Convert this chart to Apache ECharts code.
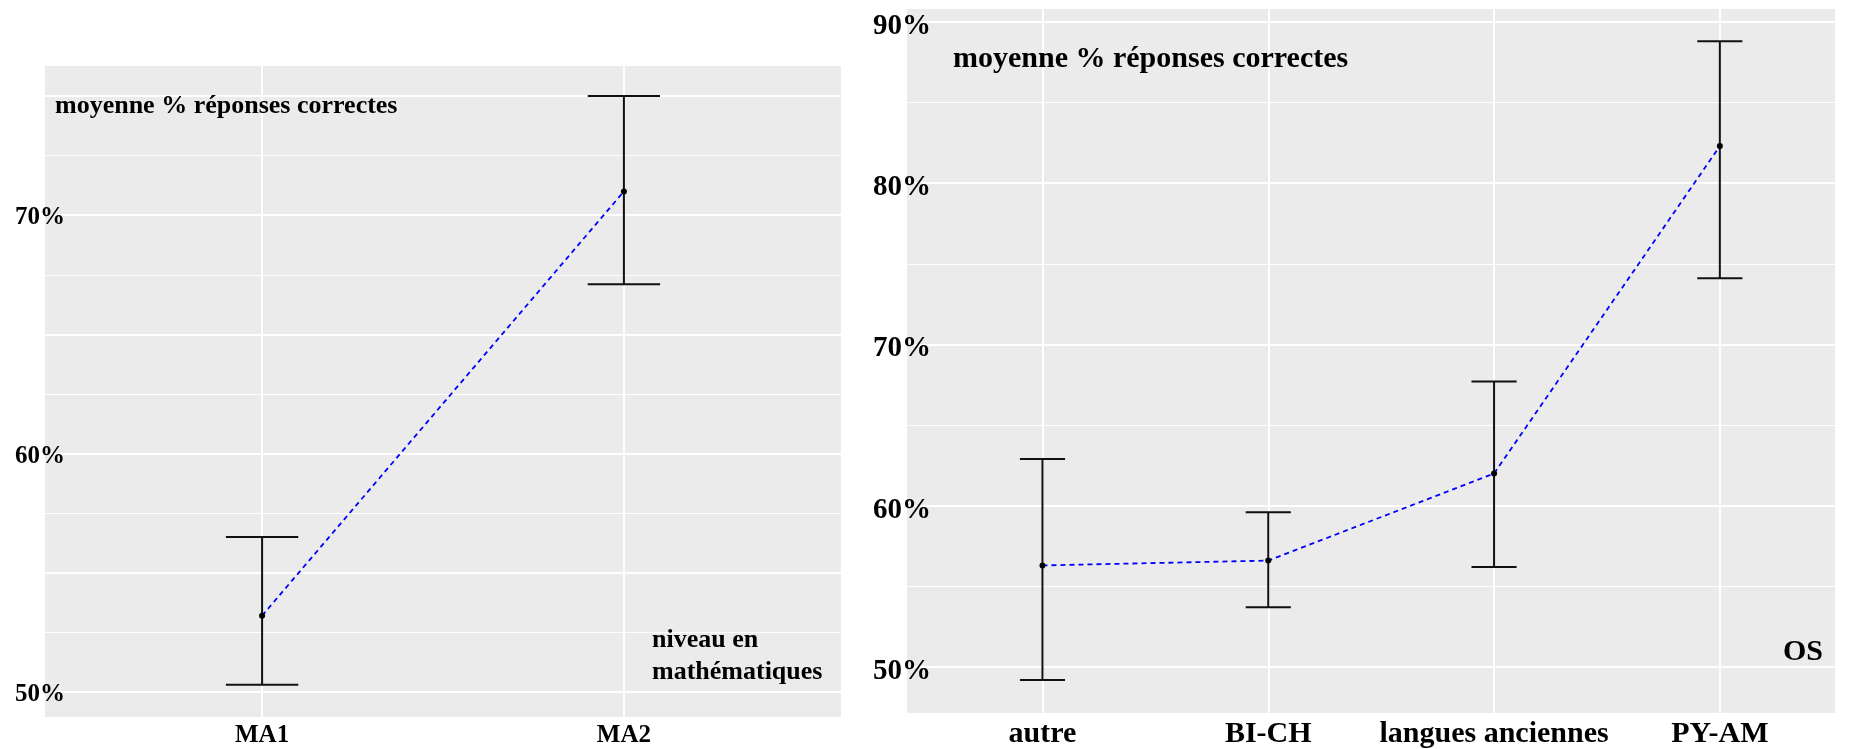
<!DOCTYPE html>
<html>
<head>
<meta charset="utf-8">
<script src="https://cdn.jsdelivr.net/npm/echarts@6/dist/echarts.min.js"></script>
<style>
html,body{margin:0;padding:0;background:#fff;}
#chart{width:1858px;height:749px;}
</style>
</head>
<body>
<div id="chart"></div>
<script>
// ---- data ----
const leftCategories = ['MA1', 'MA2'];
const leftMean = [53.2, 71.0];
const leftLow = [50.3, 67.1];
const leftHigh = [56.5, 75.0];
const leftTickValues = [50, 60, 70];
const leftTickLabels = ['50%', '60%', '70%'];

const rightCategories = ['autre', 'BI-CH', 'langues anciennes', 'PY-AM'];
const rightMean = [56.3, 56.6, 62.0, 82.3];
const rightLow = [49.2, 53.7, 56.2, 74.1];
const rightHigh = [62.9, 59.6, 67.7, 88.8];
const rightTickValues = [50, 60, 70, 80, 90];
const rightTickLabels = ['50%', '60%', '70%', '80%', '90%'];

const titleText = 'moyenne % réponses correctes';
const leftAxisTitle = ['niveau en', 'mathématiques'];
const rightAxisTitle = 'OS';

// ---- helpers ----
const FONT = '"Liberation Serif", "DejaVu Serif", serif';
function tickFormatter(values, labels) {
  return function (v) {
    for (let i = 0; i < values.length; i++) {
      if (Math.abs(v - values[i]) < 1e-6) return '{t|' + labels[i] + '}';
    }
    return '';
  };
}
function catFormatter(cats) {
  return function (v) {
    const r = Math.round(v);
    if (Math.abs(v - r) < 1e-6 && r >= 0 && r < cats.length) return cats[r];
    return '';
  };
}
function errData(low, high) {
  return low.map((l, i) => [i, l, high[i]]);
}
function meanData(mean) {
  return mean.map((m, i) => [i, m]);
}
function errorBarRender(params, api) {
  const x = api.value(0);
  const lo = api.coord([x, api.value(1)]);
  const hi = api.coord([x, api.value(2)]);
  const half = api.size([0.2, 0])[0] / 2;
  const style = { stroke: '#111', lineWidth: 2, fill: null };
  return {
    type: 'group',
    children: [
      { type: 'line', shape: { x1: lo[0], y1: lo[1], x2: hi[0], y2: hi[1] }, style },
      { type: 'line', shape: { x1: hi[0] - half, y1: hi[1], x2: hi[0] + half, y2: hi[1] }, style },
      { type: 'line', shape: { x1: lo[0] - half, y1: lo[1], x2: lo[0] + half, y2: lo[1] }, style }
    ]
  };
}
function xAxisDef(gridIndex, cats, minV, maxV, fontSize) {
  return {
    type: 'value', gridIndex, min: minV, max: maxV,
    minInterval: 1, maxInterval: 1,
    axisLine: { show: false }, axisTick: { show: false },
    splitLine: { show: true, showMinLine: false, showMaxLine: false, lineStyle: { color: '#fff', width: 2 } },
    axisLabel: { formatter: catFormatter(cats), color: '#000', fontFamily: FONT, fontWeight: 'bold', fontSize, margin: 6,
                 showMinLabel: false, showMaxLabel: false }
  };
}
function yAxisDef(gridIndex, minV, maxV, major, values, labels, fontSize, margin, padTop) {
  return {
    type: 'value', gridIndex, min: minV, max: maxV,
    minInterval: major, maxInterval: major,
    axisLine: { show: false }, axisTick: { show: false },
    minorTick: { show: false, splitNumber: 2 },
    minorSplitLine: { show: true, lineStyle: { color: '#fff', width: 1 } },
    splitLine: { show: true, showMinLine: false, showMaxLine: false, lineStyle: { color: '#fff', width: 2 } },
    axisLabel: { formatter: tickFormatter(values, labels), color: '#000', fontFamily: FONT, fontWeight: 'bold',
                 fontSize, margin, showMinLabel: false, showMaxLabel: false,
                 rich: { t: { color: '#000', fontFamily: FONT, fontWeight: 'bold', fontSize, padding: [padTop, 0, 0, 0] } } }
  };
}

const chart = echarts.init(document.getElementById('chart'), null, { renderer: 'canvas' });
const option = {
  animation: false,
  backgroundColor: '#fff',
  grid: [
    { left: 45, right: 1017, top: 66, bottom: 32, show: true, backgroundColor: '#EBEBEB', borderWidth: 0 },
    { left: 907, right: 23, top: 9, bottom: 36, show: true, backgroundColor: '#EBEBEB', borderWidth: 0 }
  ],
  xAxis: [
    xAxisDef(0, leftCategories, -0.6, 1.6, 25),
    xAxisDef(1, rightCategories, -0.6, 3.51, 30)
  ],
  yAxis: [
    yAxisDef(0, 48.95, 76.26, 5, leftTickValues, leftTickLabels, 25, -20, 5),
    yAxisDef(1, 47.15, 90.8, 10, rightTickValues, rightTickLabels, 29, -24, 9)
  ],
  series: [
    { type: 'custom', xAxisIndex: 0, yAxisIndex: 0, renderItem: errorBarRender, data: errData(leftLow, leftHigh), z: 3 },
    { type: 'line', xAxisIndex: 0, yAxisIndex: 0, data: meanData(leftMean), symbol: 'circle', symbolSize: 6,
      itemStyle: { color: '#000' }, lineStyle: { color: '#0000ff', width: 1.8, type: [5, 4] }, z: 4 },
    { type: 'custom', xAxisIndex: 1, yAxisIndex: 1, renderItem: errorBarRender, data: errData(rightLow, rightHigh), z: 3 },
    { type: 'line', xAxisIndex: 1, yAxisIndex: 1, data: meanData(rightMean), symbol: 'circle', symbolSize: 6,
      itemStyle: { color: '#000' }, lineStyle: { color: '#0000ff', width: 1.8, type: [5, 4] }, z: 4 }
  ],
  graphic: [
    { type: 'text', left: 55, top: 93, z: 10,
      style: { text: titleText, fill: '#000', font: 'bold 26px ' + FONT } },
    { type: 'text', left: 953, top: 44, z: 10,
      style: { text: titleText, fill: '#000', font: 'bold 30px ' + FONT } },
    { type: 'text', left: 652, top: 624, z: 10,
      style: { text: leftAxisTitle.join('\n'), fill: '#000', font: 'bold 26px ' + FONT, lineHeight: 32 } },
    { type: 'text', left: 1783, top: 637, z: 10,
      style: { text: rightAxisTitle, fill: '#000', font: 'bold 30px ' + FONT } }
  ]
};
chart.setOption(option);
</script>
</body>
</html>
